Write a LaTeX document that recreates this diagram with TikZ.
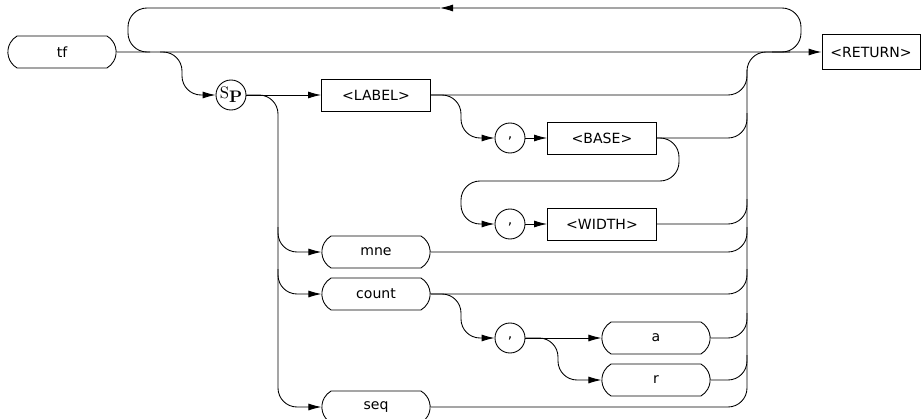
\documentclass[tikz,border=0pt]{standalone}
\usepackage{fontspec}
\setsansfont{DejaVu Sans}
\usetikzlibrary{shapes.misc, arrows.meta}

\begin{document}
\begin{tikzpicture}[x=0.02cm, y=-0.02cm, line width=0.5pt,
    term/.style={rounded rectangle, rounded rectangle arc length=120, draw, minimum width=2.4cm, minimum height=0.64cm, font=\sffamily\fontsize{8}{9}\selectfont},
    nonterm/.style={rectangle, draw, minimum width=2.18cm, minimum height=0.64cm, font=\sffamily\fontsize{8}{9}\selectfont},
    sep/.style={circle, draw, minimum size=0.6cm, inner sep=0pt, font=\sffamily\fontsize{8}{9}\selectfont},
    conn/.style={-{Latex[length=2.6mm, width=1.4mm]}},
    rail/.style={rounded corners=0.38cm}]
  \useasboundingbox (0,0) rectangle (924,419);
  % start and end
  \node[term] (tf) at (62,52) {tf};
  \node[nonterm, minimum width=1.96cm, minimum height=0.7cm] (ret) at (871,52) {<RETURN>};
  \draw[conn] (tf) -- (ret);
  % repeat loop
  \coordinate (loopmid) at (440,8);
  \draw[rail, conn] (772,52) -- (801,52) -- (801,8) -- (loopmid);
  \draw[rail] (loopmid) -- (128,8) -- (128,52) -- (150,52);
  % space
  \node[sep, font=\rmfamily\fontsize{9.5}{9}\selectfont] (sp) at (231,95) {S\raisebox{-0.55ex}{\bfseries P}};
  \draw[rail, conn] (160,52) -- (182,52) -- (182,95) -- (sp);
  % label, base, width
  \node[nonterm] (label) at (376,95) {<LABEL>};
  \node[sep] (comma1) at (510,138) {,};
  \node[nonterm] (base) at (602,138) {<BASE>};
  \node[sep] (comma2) at (510,224) {,};
  \node[nonterm] (width) at (602,224) {<WIDTH>};
  \draw[conn] (sp) -- (label);
  \draw[rail, conn] (label.east) -- (461,95) -- (461,138) -- (comma1);
  \draw[conn] (comma1) -- (base);
  \draw[rail, conn] (base.east) -- (679,138) -- (679,181) -- (461,181) -- (461,224) -- (comma2);
  \draw[conn] (comma2) -- (width);
  % mne, count, seq
  \node[term] (mne) at (376,252) {mne};
  \node[term] (count) at (376,294) {count};
  \node[term] (seq) at (376,407) {seq};
  \draw[rail, conn] (sp.east) -- (278,95) -- (278,407) -- (seq);
  \foreach \n/\y in {mne/252, count/294}
    \draw[rail, conn] (278,\y-25) -- (278,\y) -- (\n);
  % count options
  \node[sep] (comma3) at (510,338) {,};
  \node[term] (a) at (656,338) {a};
  \node[term] (r) at (656,380) {r};
  \draw[rail, conn] (count.east) -- (461,294) -- (461,338) -- (comma3);
  \draw[conn] (comma3) -- (a);
  \draw[rail, conn] (comma3.east) -- (558,338) -- (558,380) -- (r);
  % back to the main line
  \coordinate (join) at (790,52);
  \draw[rail] (seq.east) -- (747,407) -- (747,52) -- (join);
  \foreach \n/\y in {label/95, base/138, width/224, mne/252, count/294, a/338, r/380}
    \draw[rail] (\n.east) -- (747,\y) -- (747,\y-25);
\end{tikzpicture}
\end{document}
